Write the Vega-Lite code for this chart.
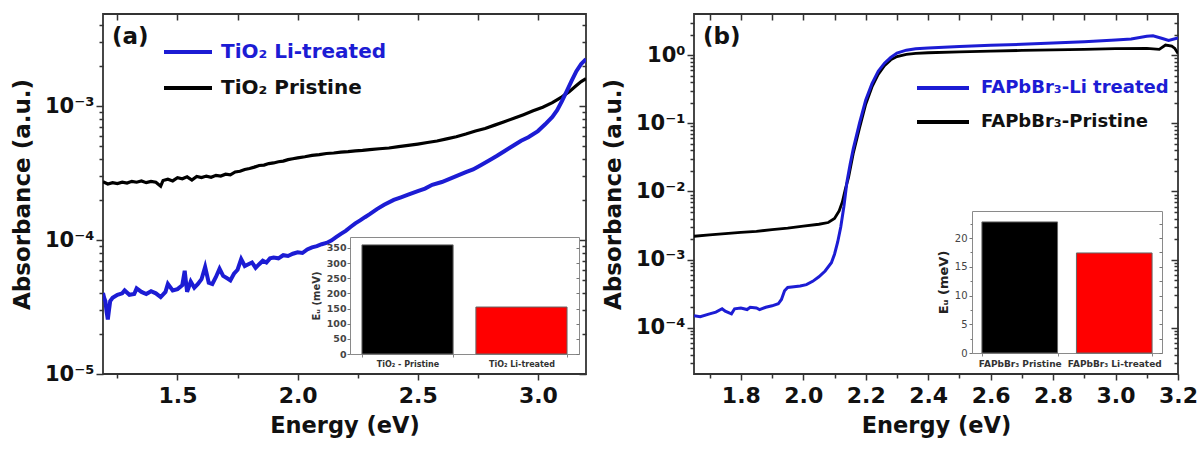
{
  "$schema": "https://vega.github.io/schema/vega-lite/v6.json",
  "padding": {"left": 10, "top": 12, "right": 0, "bottom": 0},
  "background": "white",
  "config": {
    "view": {"stroke": null},
    "font": "DejaVu Sans",
    "axis": {"grid": false, "domain": false, "labelFont": "DejaVu Sans", "titleFont": "DejaVu Sans", "labelColor": "#111", "titleColor": "#111", "tickColor": "#333", "tickWidth": 1.5, "labelOverlap": false, "labelFlush": false},
    "legend": {"labelFont": "DejaVu Sans"}
  },
  "datasets": {
    "a_lines": [
      {"sample": "TiO₂ Pristine", "E": 1.19, "A": 2.72e-4},
      {"sample": "TiO₂ Pristine", "E": 1.21, "A": 2.62e-4},
      {"sample": "TiO₂ Pristine", "E": 1.23, "A": 2.68e-4},
      {"sample": "TiO₂ Pristine", "E": 1.25, "A": 2.64e-4},
      {"sample": "TiO₂ Pristine", "E": 1.27, "A": 2.70e-4},
      {"sample": "TiO₂ Pristine", "E": 1.29, "A": 2.66e-4},
      {"sample": "TiO₂ Pristine", "E": 1.31, "A": 2.74e-4},
      {"sample": "TiO₂ Pristine", "E": 1.33, "A": 2.70e-4},
      {"sample": "TiO₂ Pristine", "E": 1.35, "A": 2.76e-4},
      {"sample": "TiO₂ Pristine", "E": 1.37, "A": 2.68e-4},
      {"sample": "TiO₂ Pristine", "E": 1.39, "A": 2.74e-4},
      {"sample": "TiO₂ Pristine", "E": 1.41, "A": 2.70e-4},
      {"sample": "TiO₂ Pristine", "E": 1.43, "A": 2.52e-4},
      {"sample": "TiO₂ Pristine", "E": 1.44, "A": 2.78e-4},
      {"sample": "TiO₂ Pristine", "E": 1.46, "A": 2.84e-4},
      {"sample": "TiO₂ Pristine", "E": 1.48, "A": 2.76e-4},
      {"sample": "TiO₂ Pristine", "E": 1.50, "A": 2.92e-4},
      {"sample": "TiO₂ Pristine", "E": 1.52, "A": 2.86e-4},
      {"sample": "TiO₂ Pristine", "E": 1.54, "A": 2.96e-4},
      {"sample": "TiO₂ Pristine", "E": 1.56, "A": 2.80e-4},
      {"sample": "TiO₂ Pristine", "E": 1.58, "A": 2.98e-4},
      {"sample": "TiO₂ Pristine", "E": 1.60, "A": 2.92e-4},
      {"sample": "TiO₂ Pristine", "E": 1.62, "A": 3.00e-4},
      {"sample": "TiO₂ Pristine", "E": 1.64, "A": 2.94e-4},
      {"sample": "TiO₂ Pristine", "E": 1.66, "A": 3.04e-4},
      {"sample": "TiO₂ Pristine", "E": 1.68, "A": 3.00e-4},
      {"sample": "TiO₂ Pristine", "E": 1.70, "A": 3.10e-4},
      {"sample": "TiO₂ Pristine", "E": 1.72, "A": 3.06e-4},
      {"sample": "TiO₂ Pristine", "E": 1.74, "A": 3.22e-4},
      {"sample": "TiO₂ Pristine", "E": 1.76, "A": 3.26e-4},
      {"sample": "TiO₂ Pristine", "E": 1.78, "A": 3.36e-4},
      {"sample": "TiO₂ Pristine", "E": 1.80, "A": 3.42e-4},
      {"sample": "TiO₂ Pristine", "E": 1.82, "A": 3.50e-4},
      {"sample": "TiO₂ Pristine", "E": 1.84, "A": 3.60e-4},
      {"sample": "TiO₂ Pristine", "E": 1.86, "A": 3.62e-4},
      {"sample": "TiO₂ Pristine", "E": 1.88, "A": 3.72e-4},
      {"sample": "TiO₂ Pristine", "E": 1.90, "A": 3.76e-4},
      {"sample": "TiO₂ Pristine", "E": 1.92, "A": 3.84e-4},
      {"sample": "TiO₂ Pristine", "E": 1.94, "A": 3.88e-4},
      {"sample": "TiO₂ Pristine", "E": 1.96, "A": 3.98e-4},
      {"sample": "TiO₂ Pristine", "E": 1.98, "A": 4.04e-4},
      {"sample": "TiO₂ Pristine", "E": 2.00, "A": 4.10e-4},
      {"sample": "TiO₂ Pristine", "E": 2.03, "A": 4.18e-4},
      {"sample": "TiO₂ Pristine", "E": 2.06, "A": 4.28e-4},
      {"sample": "TiO₂ Pristine", "E": 2.09, "A": 4.34e-4},
      {"sample": "TiO₂ Pristine", "E": 2.12, "A": 4.42e-4},
      {"sample": "TiO₂ Pristine", "E": 2.15, "A": 4.46e-4},
      {"sample": "TiO₂ Pristine", "E": 2.18, "A": 4.52e-4},
      {"sample": "TiO₂ Pristine", "E": 2.21, "A": 4.56e-4},
      {"sample": "TiO₂ Pristine", "E": 2.24, "A": 4.62e-4},
      {"sample": "TiO₂ Pristine", "E": 2.27, "A": 4.66e-4},
      {"sample": "TiO₂ Pristine", "E": 2.30, "A": 4.72e-4},
      {"sample": "TiO₂ Pristine", "E": 2.34, "A": 4.80e-4},
      {"sample": "TiO₂ Pristine", "E": 2.38, "A": 4.86e-4},
      {"sample": "TiO₂ Pristine", "E": 2.42, "A": 4.98e-4},
      {"sample": "TiO₂ Pristine", "E": 2.46, "A": 5.08e-4},
      {"sample": "TiO₂ Pristine", "E": 2.50, "A": 5.20e-4},
      {"sample": "TiO₂ Pristine", "E": 2.54, "A": 5.34e-4},
      {"sample": "TiO₂ Pristine", "E": 2.58, "A": 5.48e-4},
      {"sample": "TiO₂ Pristine", "E": 2.62, "A": 5.68e-4},
      {"sample": "TiO₂ Pristine", "E": 2.66, "A": 5.90e-4},
      {"sample": "TiO₂ Pristine", "E": 2.70, "A": 6.18e-4},
      {"sample": "TiO₂ Pristine", "E": 2.74, "A": 6.50e-4},
      {"sample": "TiO₂ Pristine", "E": 2.78, "A": 6.80e-4},
      {"sample": "TiO₂ Pristine", "E": 2.82, "A": 7.20e-4},
      {"sample": "TiO₂ Pristine", "E": 2.86, "A": 7.64e-4},
      {"sample": "TiO₂ Pristine", "E": 2.90, "A": 8.10e-4},
      {"sample": "TiO₂ Pristine", "E": 2.94, "A": 8.62e-4},
      {"sample": "TiO₂ Pristine", "E": 2.98, "A": 9.20e-4},
      {"sample": "TiO₂ Pristine", "E": 3.02, "A": 9.80e-4},
      {"sample": "TiO₂ Pristine", "E": 3.06, "A": 1.06e-3},
      {"sample": "TiO₂ Pristine", "E": 3.10, "A": 1.17e-3},
      {"sample": "TiO₂ Pristine", "E": 3.13, "A": 1.28e-3},
      {"sample": "TiO₂ Pristine", "E": 3.16, "A": 1.42e-3},
      {"sample": "TiO₂ Pristine", "E": 3.18, "A": 1.52e-3},
      {"sample": "TiO₂ Pristine", "E": 3.20, "A": 1.60e-3},
      {"sample": "TiO₂ Li-treated", "E": 1.19, "A": 4.02e-5},
      {"sample": "TiO₂ Li-treated", "E": 1.195, "A": 3.7e-5},
      {"sample": "TiO₂ Li-treated", "E": 1.20, "A": 3.5e-5},
      {"sample": "TiO₂ Li-treated", "E": 1.205, "A": 2.9e-5},
      {"sample": "TiO₂ Li-treated", "E": 1.21, "A": 2.55e-5},
      {"sample": "TiO₂ Li-treated", "E": 1.215, "A": 3.0e-5},
      {"sample": "TiO₂ Li-treated", "E": 1.22, "A": 3.5e-5},
      {"sample": "TiO₂ Li-treated", "E": 1.23, "A": 3.7e-5},
      {"sample": "TiO₂ Li-treated", "E": 1.25, "A": 3.9e-5},
      {"sample": "TiO₂ Li-treated", "E": 1.27, "A": 4.0e-5},
      {"sample": "TiO₂ Li-treated", "E": 1.28, "A": 4.2e-5},
      {"sample": "TiO₂ Li-treated", "E": 1.30, "A": 3.9e-5},
      {"sample": "TiO₂ Li-treated", "E": 1.32, "A": 3.95e-5},
      {"sample": "TiO₂ Li-treated", "E": 1.33, "A": 4.35e-5},
      {"sample": "TiO₂ Li-treated", "E": 1.35, "A": 4.1e-5},
      {"sample": "TiO₂ Li-treated", "E": 1.37, "A": 3.95e-5},
      {"sample": "TiO₂ Li-treated", "E": 1.39, "A": 4.15e-5},
      {"sample": "TiO₂ Li-treated", "E": 1.41, "A": 4.0e-5},
      {"sample": "TiO₂ Li-treated", "E": 1.43, "A": 3.75e-5},
      {"sample": "TiO₂ Li-treated", "E": 1.45, "A": 4.1e-5},
      {"sample": "TiO₂ Li-treated", "E": 1.46, "A": 4.7e-5},
      {"sample": "TiO₂ Li-treated", "E": 1.48, "A": 4.2e-5},
      {"sample": "TiO₂ Li-treated", "E": 1.50, "A": 4.3e-5},
      {"sample": "TiO₂ Li-treated", "E": 1.52, "A": 4.6e-5},
      {"sample": "TiO₂ Li-treated", "E": 1.53, "A": 5.9e-5},
      {"sample": "TiO₂ Li-treated", "E": 1.54, "A": 4.1e-5},
      {"sample": "TiO₂ Li-treated", "E": 1.555, "A": 4.9e-5},
      {"sample": "TiO₂ Li-treated", "E": 1.57, "A": 4.4e-5},
      {"sample": "TiO₂ Li-treated", "E": 1.585, "A": 4.7e-5},
      {"sample": "TiO₂ Li-treated", "E": 1.60, "A": 5.1e-5},
      {"sample": "TiO₂ Li-treated", "E": 1.615, "A": 6.3e-5},
      {"sample": "TiO₂ Li-treated", "E": 1.63, "A": 4.8e-5},
      {"sample": "TiO₂ Li-treated", "E": 1.645, "A": 4.7e-5},
      {"sample": "TiO₂ Li-treated", "E": 1.66, "A": 5.3e-5},
      {"sample": "TiO₂ Li-treated", "E": 1.675, "A": 6.1e-5},
      {"sample": "TiO₂ Li-treated", "E": 1.69, "A": 5.4e-5},
      {"sample": "TiO₂ Li-treated", "E": 1.705, "A": 5.2e-5},
      {"sample": "TiO₂ Li-treated", "E": 1.72, "A": 5.0e-5},
      {"sample": "TiO₂ Li-treated", "E": 1.735, "A": 5.6e-5},
      {"sample": "TiO₂ Li-treated", "E": 1.75, "A": 6.0e-5},
      {"sample": "TiO₂ Li-treated", "E": 1.765, "A": 7.2e-5},
      {"sample": "TiO₂ Li-treated", "E": 1.78, "A": 6.4e-5},
      {"sample": "TiO₂ Li-treated", "E": 1.795, "A": 6.6e-5},
      {"sample": "TiO₂ Li-treated", "E": 1.81, "A": 6.8e-5},
      {"sample": "TiO₂ Li-treated", "E": 1.825, "A": 6.2e-5},
      {"sample": "TiO₂ Li-treated", "E": 1.84, "A": 6.6e-5},
      {"sample": "TiO₂ Li-treated", "E": 1.855, "A": 7.0e-5},
      {"sample": "TiO₂ Li-treated", "E": 1.87, "A": 6.8e-5},
      {"sample": "TiO₂ Li-treated", "E": 1.885, "A": 7.3e-5},
      {"sample": "TiO₂ Li-treated", "E": 1.90, "A": 7.4e-5},
      {"sample": "TiO₂ Li-treated", "E": 1.92, "A": 7.3e-5},
      {"sample": "TiO₂ Li-treated", "E": 1.94, "A": 7.7e-5},
      {"sample": "TiO₂ Li-treated", "E": 1.96, "A": 7.6e-5},
      {"sample": "TiO₂ Li-treated", "E": 1.98, "A": 7.9e-5},
      {"sample": "TiO₂ Li-treated", "E": 2.00, "A": 8.1e-5},
      {"sample": "TiO₂ Li-treated", "E": 2.02, "A": 8.0e-5},
      {"sample": "TiO₂ Li-treated", "E": 2.04, "A": 8.5e-5},
      {"sample": "TiO₂ Li-treated", "E": 2.06, "A": 8.8e-5},
      {"sample": "TiO₂ Li-treated", "E": 2.08, "A": 9.0e-5},
      {"sample": "TiO₂ Li-treated", "E": 2.10, "A": 9.3e-5},
      {"sample": "TiO₂ Li-treated", "E": 2.12, "A": 9.5e-5},
      {"sample": "TiO₂ Li-treated", "E": 2.14, "A": 9.9e-5},
      {"sample": "TiO₂ Li-treated", "E": 2.16, "A": 1.05e-4},
      {"sample": "TiO₂ Li-treated", "E": 2.18, "A": 1.11e-4},
      {"sample": "TiO₂ Li-treated", "E": 2.20, "A": 1.17e-4},
      {"sample": "TiO₂ Li-treated", "E": 2.22, "A": 1.25e-4},
      {"sample": "TiO₂ Li-treated", "E": 2.24, "A": 1.33e-4},
      {"sample": "TiO₂ Li-treated", "E": 2.26, "A": 1.40e-4},
      {"sample": "TiO₂ Li-treated", "E": 2.28, "A": 1.48e-4},
      {"sample": "TiO₂ Li-treated", "E": 2.30, "A": 1.56e-4},
      {"sample": "TiO₂ Li-treated", "E": 2.33, "A": 1.70e-4},
      {"sample": "TiO₂ Li-treated", "E": 2.36, "A": 1.83e-4},
      {"sample": "TiO₂ Li-treated", "E": 2.40, "A": 1.99e-4},
      {"sample": "TiO₂ Li-treated", "E": 2.43, "A": 2.08e-4},
      {"sample": "TiO₂ Li-treated", "E": 2.46, "A": 2.18e-4},
      {"sample": "TiO₂ Li-treated", "E": 2.50, "A": 2.32e-4},
      {"sample": "TiO₂ Li-treated", "E": 2.53, "A": 2.42e-4},
      {"sample": "TiO₂ Li-treated", "E": 2.56, "A": 2.58e-4},
      {"sample": "TiO₂ Li-treated", "E": 2.60, "A": 2.71e-4},
      {"sample": "TiO₂ Li-treated", "E": 2.63, "A": 2.85e-4},
      {"sample": "TiO₂ Li-treated", "E": 2.66, "A": 3.0e-4},
      {"sample": "TiO₂ Li-treated", "E": 2.70, "A": 3.21e-4},
      {"sample": "TiO₂ Li-treated", "E": 2.73, "A": 3.36e-4},
      {"sample": "TiO₂ Li-treated", "E": 2.76, "A": 3.6e-4},
      {"sample": "TiO₂ Li-treated", "E": 2.80, "A": 3.95e-4},
      {"sample": "TiO₂ Li-treated", "E": 2.83, "A": 4.25e-4},
      {"sample": "TiO₂ Li-treated", "E": 2.86, "A": 4.6e-4},
      {"sample": "TiO₂ Li-treated", "E": 2.90, "A": 5.1e-4},
      {"sample": "TiO₂ Li-treated", "E": 2.93, "A": 5.5e-4},
      {"sample": "TiO₂ Li-treated", "E": 2.96, "A": 5.85e-4},
      {"sample": "TiO₂ Li-treated", "E": 3.00, "A": 6.5e-4},
      {"sample": "TiO₂ Li-treated", "E": 3.03, "A": 7.3e-4},
      {"sample": "TiO₂ Li-treated", "E": 3.06, "A": 8.3e-4},
      {"sample": "TiO₂ Li-treated", "E": 3.08, "A": 9.3e-4},
      {"sample": "TiO₂ Li-treated", "E": 3.10, "A": 1.09e-3},
      {"sample": "TiO₂ Li-treated", "E": 3.12, "A": 1.29e-3},
      {"sample": "TiO₂ Li-treated", "E": 3.14, "A": 1.54e-3},
      {"sample": "TiO₂ Li-treated", "E": 3.16, "A": 1.82e-3},
      {"sample": "TiO₂ Li-treated", "E": 3.18, "A": 2.06e-3},
      {"sample": "TiO₂ Li-treated", "E": 3.20, "A": 2.24e-3}
    ],
    "b_lines": [
      {"sample": "FAPbBr₃-Pristine", "E": 1.65, "A": 2.2e-3},
      {"sample": "FAPbBr₃-Pristine", "E": 1.70, "A": 2.3e-3},
      {"sample": "FAPbBr₃-Pristine", "E": 1.75, "A": 2.4e-3},
      {"sample": "FAPbBr₃-Pristine", "E": 1.80, "A": 2.5e-3},
      {"sample": "FAPbBr₃-Pristine", "E": 1.85, "A": 2.6e-3},
      {"sample": "FAPbBr₃-Pristine", "E": 1.90, "A": 2.75e-3},
      {"sample": "FAPbBr₃-Pristine", "E": 1.95, "A": 2.9e-3},
      {"sample": "FAPbBr₃-Pristine", "E": 2.00, "A": 3.1e-3},
      {"sample": "FAPbBr₃-Pristine", "E": 2.05, "A": 3.3e-3},
      {"sample": "FAPbBr₃-Pristine", "E": 2.08, "A": 3.5e-3},
      {"sample": "FAPbBr₃-Pristine", "E": 2.10, "A": 4.0e-3},
      {"sample": "FAPbBr₃-Pristine", "E": 2.115, "A": 5.2e-3},
      {"sample": "FAPbBr₃-Pristine", "E": 2.125, "A": 7.0e-3},
      {"sample": "FAPbBr₃-Pristine", "E": 2.135, "A": 1.1e-2},
      {"sample": "FAPbBr₃-Pristine", "E": 2.145, "A": 1.6e-2},
      {"sample": "FAPbBr₃-Pristine", "E": 2.16, "A": 3.6e-2},
      {"sample": "FAPbBr₃-Pristine", "E": 2.18, "A": 0.085},
      {"sample": "FAPbBr₃-Pristine", "E": 2.20, "A": 0.19},
      {"sample": "FAPbBr₃-Pristine", "E": 2.22, "A": 0.34},
      {"sample": "FAPbBr₃-Pristine", "E": 2.24, "A": 0.52},
      {"sample": "FAPbBr₃-Pristine", "E": 2.26, "A": 0.70},
      {"sample": "FAPbBr₃-Pristine", "E": 2.28, "A": 0.85},
      {"sample": "FAPbBr₃-Pristine", "E": 2.30, "A": 0.95},
      {"sample": "FAPbBr₃-Pristine", "E": 2.33, "A": 1.02},
      {"sample": "FAPbBr₃-Pristine", "E": 2.36, "A": 1.06},
      {"sample": "FAPbBr₃-Pristine", "E": 2.40, "A": 1.08},
      {"sample": "FAPbBr₃-Pristine", "E": 2.50, "A": 1.11},
      {"sample": "FAPbBr₃-Pristine", "E": 2.60, "A": 1.14},
      {"sample": "FAPbBr₃-Pristine", "E": 2.70, "A": 1.17},
      {"sample": "FAPbBr₃-Pristine", "E": 2.80, "A": 1.19},
      {"sample": "FAPbBr₃-Pristine", "E": 2.90, "A": 1.21},
      {"sample": "FAPbBr₃-Pristine", "E": 3.00, "A": 1.24},
      {"sample": "FAPbBr₃-Pristine", "E": 3.10, "A": 1.25},
      {"sample": "FAPbBr₃-Pristine", "E": 3.14, "A": 1.21},
      {"sample": "FAPbBr₃-Pristine", "E": 3.16, "A": 1.40},
      {"sample": "FAPbBr₃-Pristine", "E": 3.18, "A": 1.35},
      {"sample": "FAPbBr₃-Pristine", "E": 3.19, "A": 1.25},
      {"sample": "FAPbBr₃-Pristine", "E": 3.20, "A": 1.05},
      {"sample": "FAPbBr₃-Li treated", "E": 1.65, "A": 1.5e-4},
      {"sample": "FAPbBr₃-Li treated", "E": 1.67, "A": 1.45e-4},
      {"sample": "FAPbBr₃-Li treated", "E": 1.70, "A": 1.6e-4},
      {"sample": "FAPbBr₃-Li treated", "E": 1.72, "A": 1.7e-4},
      {"sample": "FAPbBr₃-Li treated", "E": 1.74, "A": 1.9e-4},
      {"sample": "FAPbBr₃-Li treated", "E": 1.75, "A": 1.75e-4},
      {"sample": "FAPbBr₃-Li treated", "E": 1.77, "A": 1.6e-4},
      {"sample": "FAPbBr₃-Li treated", "E": 1.78, "A": 1.9e-4},
      {"sample": "FAPbBr₃-Li treated", "E": 1.80, "A": 1.95e-4},
      {"sample": "FAPbBr₃-Li treated", "E": 1.82, "A": 1.85e-4},
      {"sample": "FAPbBr₃-Li treated", "E": 1.83, "A": 2.0e-4},
      {"sample": "FAPbBr₃-Li treated", "E": 1.85, "A": 1.95e-4},
      {"sample": "FAPbBr₃-Li treated", "E": 1.86, "A": 1.85e-4},
      {"sample": "FAPbBr₃-Li treated", "E": 1.88, "A": 2.0e-4},
      {"sample": "FAPbBr₃-Li treated", "E": 1.90, "A": 2.1e-4},
      {"sample": "FAPbBr₃-Li treated", "E": 1.92, "A": 2.25e-4},
      {"sample": "FAPbBr₃-Li treated", "E": 1.93, "A": 2.6e-4},
      {"sample": "FAPbBr₃-Li treated", "E": 1.94, "A": 3.5e-4},
      {"sample": "FAPbBr₃-Li treated", "E": 1.95, "A": 3.9e-4},
      {"sample": "FAPbBr₃-Li treated", "E": 1.97, "A": 4.0e-4},
      {"sample": "FAPbBr₃-Li treated", "E": 1.99, "A": 4.1e-4},
      {"sample": "FAPbBr₃-Li treated", "E": 2.01, "A": 4.3e-4},
      {"sample": "FAPbBr₃-Li treated", "E": 2.03, "A": 4.8e-4},
      {"sample": "FAPbBr₃-Li treated", "E": 2.05, "A": 5.6e-4},
      {"sample": "FAPbBr₃-Li treated", "E": 2.07, "A": 6.8e-4},
      {"sample": "FAPbBr₃-Li treated", "E": 2.09, "A": 9.0e-4},
      {"sample": "FAPbBr₃-Li treated", "E": 2.10, "A": 1.2e-3},
      {"sample": "FAPbBr₃-Li treated", "E": 2.11, "A": 1.8e-3},
      {"sample": "FAPbBr₃-Li treated", "E": 2.12, "A": 3.0e-3},
      {"sample": "FAPbBr₃-Li treated", "E": 2.13, "A": 6.0e-3},
      {"sample": "FAPbBr₃-Li treated", "E": 2.14, "A": 1.4e-2},
      {"sample": "FAPbBr₃-Li treated", "E": 2.15, "A": 2.5e-2},
      {"sample": "FAPbBr₃-Li treated", "E": 2.16, "A": 4.2e-2},
      {"sample": "FAPbBr₃-Li treated", "E": 2.18, "A": 0.10},
      {"sample": "FAPbBr₃-Li treated", "E": 2.20, "A": 0.22},
      {"sample": "FAPbBr₃-Li treated", "E": 2.22, "A": 0.38},
      {"sample": "FAPbBr₃-Li treated", "E": 2.24, "A": 0.58},
      {"sample": "FAPbBr₃-Li treated", "E": 2.26, "A": 0.76},
      {"sample": "FAPbBr₃-Li treated", "E": 2.28, "A": 0.92},
      {"sample": "FAPbBr₃-Li treated", "E": 2.30, "A": 1.07},
      {"sample": "FAPbBr₃-Li treated", "E": 2.33, "A": 1.18},
      {"sample": "FAPbBr₃-Li treated", "E": 2.36, "A": 1.24},
      {"sample": "FAPbBr₃-Li treated", "E": 2.40, "A": 1.27},
      {"sample": "FAPbBr₃-Li treated", "E": 2.50, "A": 1.33},
      {"sample": "FAPbBr₃-Li treated", "E": 2.60, "A": 1.39},
      {"sample": "FAPbBr₃-Li treated", "E": 2.70, "A": 1.44},
      {"sample": "FAPbBr₃-Li treated", "E": 2.80, "A": 1.50},
      {"sample": "FAPbBr₃-Li treated", "E": 2.90, "A": 1.57},
      {"sample": "FAPbBr₃-Li treated", "E": 3.00, "A": 1.66},
      {"sample": "FAPbBr₃-Li treated", "E": 3.05, "A": 1.72},
      {"sample": "FAPbBr₃-Li treated", "E": 3.10, "A": 1.88},
      {"sample": "FAPbBr₃-Li treated", "E": 3.12, "A": 1.92},
      {"sample": "FAPbBr₃-Li treated", "E": 3.15, "A": 1.75},
      {"sample": "FAPbBr₃-Li treated", "E": 3.17, "A": 1.64},
      {"sample": "FAPbBr₃-Li treated", "E": 3.20, "A": 1.78}
    ],
    "a_eu": [
      {"sample": "TiO₂ - Pristine", "Eu": 360},
      {"sample": "TiO₂ Li-treated", "Eu": 155}
    ],
    "b_eu": [
      {"sample": "FAPbBr₃ Pristine", "Eu": 22.8},
      {"sample": "FAPbBr₃ Li-treated", "Eu": 17.4}
    ]
  },
  "hconcat": [
    {
      "vconcat": [
        {
          "vconcat": [
            {
              "width": 483,
              "height": 360,
              "view": {"stroke": "#333", "strokeWidth": 1.8},
              "title": {"text": "(a)", "anchor": "start", "frame": "group", "orient": "top", "offset": -54, "dx": 9, "fontSize": 23, "fontWeight": "bold", "font": "DejaVu Sans", "color": "#111", "baseline": "alphabetic"},
              "data": {"name": "a_lines"},
              "layer": [
                {
                  "transform": [{"filter": "datum.sample == 'TiO₂ Pristine'"}],
                  "mark": {"type": "line", "strokeWidth": 3.2, "clip": true},
                  "encoding": {
                    "x": {"field": "E", "type": "quantitative", "scale": {"domain": [1.19, 3.2], "nice": false, "zero": false},
                          "axis": {"orient": "bottom", "values": [1.5, 2.0, 2.5, 3.0], "format": ".1f", "tickSize": 6, "labelFontSize": 22, "labelFontWeight": "bold", "labelPadding": 5, "title": "Energy (eV)", "titleFontSize": 22.5, "titleFontWeight": "bold", "titlePadding": 8}},
                    "y": {"field": "A", "type": "quantitative", "scale": {"type": "log", "domain": [1e-5, 0.00486], "nice": false},
                          "axis": {"orient": "left", "values": [1e-5, 1e-4, 1e-3], "labelExpr": "datum.value < 5e-5 ? '10⁻⁵' : datum.value < 5e-4 ? '10⁻⁴' : '10⁻³'", "tickSize": 7, "labelFontSize": 21, "labelFontWeight": "bold", "labelPadding": 2, "title": "Absorbance (a.u.)", "titleFontSize": 23, "titleFontWeight": "bold", "titlePadding": 10}},
                    "color": {"field": "sample", "type": "nominal", "scale": {"domain": ["TiO₂ Li-treated", "TiO₂ Pristine"], "range": ["#1c1cd4", "#000000"]},
                              "legend": {"orient": "none", "legendX": 59, "legendY": 20, "title": null, "symbolType": "stroke", "symbolSize": 2304, "symbolStrokeWidth": 4, "labelFontSize": 20, "labelFontWeight": "bold", "labelOffset": 7, "clipHeight": 36, "padding": 0, "rowPadding": 0, "labelLimit": 400, "labelColor": {"expr": "datum.label == 'TiO₂ Li-treated' ? '#1c1cd4' : '#111111'"}}}
                  }
                },
                {
                  "transform": [{"filter": "datum.sample == 'TiO₂ Li-treated'"}],
                  "mark": {"type": "line", "strokeWidth": 4, "clip": true},
                  "encoding": {
                    "x": {"field": "E", "type": "quantitative", "scale": {"domain": [1.19, 3.2], "nice": false, "zero": false}, "axis": null},
                    "y": {"field": "A", "type": "quantitative", "scale": {"type": "log", "domain": [1e-5, 0.00486], "nice": false}, "axis": null},
                    "color": {"field": "sample", "type": "nominal", "scale": {"domain": ["TiO₂ Li-treated", "TiO₂ Pristine"], "range": ["#1c1cd4", "#000000"]}, "legend": null}
                  }
                },
                {
                  "mark": {"type": "point", "opacity": 0},
                  "encoding": {
                    "x": {"field": "E", "type": "quantitative", "scale": {"domain": [1.19, 3.2], "nice": false, "zero": false},
                          "axis": {"orient": "bottom", "values": [1.25, 1.75, 2.25, 2.75], "labels": false, "tickSize": 4, "title": null}},
                    "y": {"field": "A", "type": "quantitative", "scale": {"type": "log", "domain": [1e-5, 0.00486], "nice": false},
                          "axis": {"orient": "left", "values": [2e-5, 3e-5, 4e-5, 5e-5, 6e-5, 7e-5, 8e-5, 9e-5, 2e-4, 3e-4, 4e-4, 5e-4, 6e-4, 7e-4, 8e-4, 9e-4, 2e-3, 3e-3, 4e-3], "labels": false, "tickSize": 4, "title": null}}
                  }
                },
                {
                  "mark": {"type": "point", "opacity": 0},
                  "encoding": {
                    "x": {"field": "E", "type": "quantitative", "scale": {"domain": [1.19, 3.2], "nice": false, "zero": false},
                          "axis": {"orient": "top", "values": [1.25, 1.5, 1.75, 2.0, 2.25, 2.5, 2.75, 3.0], "labels": false, "tickSize": -6, "title": null}},
                    "y": {"field": "A", "type": "quantitative", "scale": {"type": "log", "domain": [1e-5, 0.00486], "nice": false},
                          "axis": {"orient": "right", "values": [1e-5, 1e-4, 1e-3], "labels": false, "tickSize": -7, "title": null}}
                  }
                },
                {
                  "mark": {"type": "point", "opacity": 0},
                  "encoding": {
                    "x": {"field": "E", "type": "quantitative", "scale": {"domain": [1.19, 3.2], "nice": false, "zero": false}, "axis": null},
                    "y": {"field": "A", "type": "quantitative", "scale": {"type": "log", "domain": [1e-5, 0.00486], "nice": false},
                          "axis": {"orient": "right", "values": [2e-5, 3e-5, 4e-5, 5e-5, 6e-5, 7e-5, 8e-5, 9e-5, 2e-4, 3e-4, 4e-4, 5e-4, 6e-4, 7e-4, 8e-4, 9e-4, 2e-3, 3e-3, 4e-3], "labels": false, "tickSize": -4, "title": null}}
                  }
                }
              ],
              "resolve": {"axis": {"x": "independent", "y": "independent"}}
            }
          ],
          "bounds": "flush",
          "resolve": {"scale": {"x": "independent", "y": "independent", "color": "independent"}, "legend": {"color": "independent"}}
        },
        {
          "hconcat": [
            {"width": 247, "height": 5, "data": {"values": [{"v": 0}]}, "mark": {"type": "point", "opacity": 0}},
            {
              "width": 229,
              "height": 117,
              "view": {"stroke": "#8a8a8a", "strokeWidth": 1, "fill": "white"},
              "data": {"name": "a_eu"},
              "layer": [
                {
                  "mark": {"type": "bar", "stroke": "#666", "strokeWidth": 1},
                  "encoding": {
                    "x": {"field": "sample", "type": "nominal", "sort": null, "scale": {"paddingInner": 0.2, "paddingOuter": 0.105}, "axis": null},
                    "y": {"field": "Eu", "type": "quantitative", "scale": {"domain": [0, 386], "nice": false},
                          "axis": {"orient": "left", "values": [0, 50, 100, 150, 200, 250, 300, 350], "tickSize": 3, "tickWidth": 1, "tickColor": "#777", "labelFontSize": 9.5, "labelFontWeight": "bold", "labelColor": "#444", "labelPadding": 1, "title": "Eᵤ (meV)", "titleFontSize": 10, "titleFontWeight": "bold", "titleColor": "#333", "titlePadding": 5}},
                    "color": {"field": "sample", "type": "nominal", "scale": {"domain": ["TiO₂ - Pristine", "TiO₂ Li-treated"], "range": ["#000000", "#ff0000"]}, "legend": null}
                  }
                },
                {
                  "mark": {"type": "bar", "opacity": 0},
                  "encoding": {
                    "x": {"field": "sample", "type": "nominal", "sort": null, "scale": {"paddingInner": 0.2, "paddingOuter": 0.105},
                          "axis": {"orient": "bottom", "title": null, "labelAngle": 0, "labels": true, "ticks": true, "tickBand": "extent", "tickSize": 3, "tickWidth": 1, "tickColor": "#888", "labelFontSize": 8, "labelFontWeight": "bold", "labelColor": "#333", "labelPadding": 3, "labelLimit": 200}},
                    "y": {"field": "Eu", "type": "quantitative", "scale": {"domain": [0, 386], "nice": false},
                          "axis": {"orient": "right", "values": [0, 50, 100, 150, 200, 250, 300, 350], "labels": false, "tickSize": -3, "tickWidth": 1, "tickColor": "#777", "title": null}}
                  }
                }
              ],
              "resolve": {"axis": {"x": "independent", "y": "independent"}}
            }
          ],
          "spacing": 0,
          "bounds": "flush",
          "resolve": {"scale": {"x": "independent", "y": "independent", "color": "independent"}, "legend": {"color": "independent"}}
        }
      ],
      "spacing": 223,
      "bounds": "flush",
      "resolve": {"scale": {"x": "independent", "y": "independent", "color": "independent"}, "legend": {"color": "independent"}}
    },
    {
      "vconcat": [
        {
          "vconcat": [
            {
              "width": 484,
              "height": 360,
              "view": {"stroke": "#333", "strokeWidth": 1.8},
              "title": {"text": "(b)", "anchor": "start", "frame": "group", "orient": "top", "offset": -54, "dx": 9, "fontSize": 23, "fontWeight": "bold", "font": "DejaVu Sans", "color": "#111", "baseline": "alphabetic"},
              "data": {"name": "b_lines"},
              "layer": [
                {
                  "transform": [{"filter": "datum.sample == 'FAPbBr₃-Pristine'"}],
                  "mark": {"type": "line", "strokeWidth": 2.8, "clip": true},
                  "encoding": {
                    "x": {"field": "E", "type": "quantitative", "scale": {"domain": [1.65, 3.2], "nice": false, "zero": false},
                          "axis": {"orient": "bottom", "values": [1.8, 2.0, 2.2, 2.4, 2.6, 2.8, 3.0, 3.2], "format": ".1f", "tickSize": 6, "labelFontSize": 22, "labelFontWeight": "bold", "labelPadding": 5, "title": "Energy (eV)", "titleFontSize": 22.5, "titleFontWeight": "bold", "titlePadding": 8}},
                    "y": {"field": "A", "type": "quantitative", "scale": {"type": "log", "domain": [2.1e-5, 4.0], "nice": false},
                          "axis": {"orient": "left", "values": [1e-4, 1e-3, 1e-2, 0.1, 1], "labelExpr": "datum.value < 5e-4 ? '10⁻⁴' : datum.value < 5e-3 ? '10⁻³' : datum.value < 5e-2 ? '10⁻²' : datum.value < 0.5 ? '10⁻¹' : '10⁰'", "tickSize": 7, "labelFontSize": 21, "labelFontWeight": "bold", "labelPadding": 2, "title": "Absorbance (a.u.)", "titleFontSize": 23, "titleFontWeight": "bold", "titlePadding": 10}},
                    "color": {"field": "sample", "type": "nominal", "scale": {"domain": ["FAPbBr₃-Li treated", "FAPbBr₃-Pristine"], "range": ["#1c1cd4", "#000000"]},
                              "legend": {"orient": "none", "legendX": 221, "legendY": 57, "title": null, "symbolType": "stroke", "symbolSize": 2704, "symbolStrokeWidth": 4, "labelFontSize": 18, "labelFontWeight": "bold", "labelOffset": 10, "clipHeight": 34, "padding": 0, "rowPadding": 0, "labelLimit": 400, "labelColor": {"expr": "datum.label == 'FAPbBr₃-Li treated' ? '#1c1cd4' : '#111111'"}}}
                  }
                },
                {
                  "transform": [{"filter": "datum.sample == 'FAPbBr₃-Li treated'"}],
                  "mark": {"type": "line", "strokeWidth": 3, "clip": true},
                  "encoding": {
                    "x": {"field": "E", "type": "quantitative", "scale": {"domain": [1.65, 3.2], "nice": false, "zero": false}, "axis": null},
                    "y": {"field": "A", "type": "quantitative", "scale": {"type": "log", "domain": [2.1e-5, 4.0], "nice": false}, "axis": null},
                    "color": {"field": "sample", "type": "nominal", "scale": {"domain": ["FAPbBr₃-Li treated", "FAPbBr₃-Pristine"], "range": ["#1c1cd4", "#000000"]}, "legend": null}
                  }
                },
                {
                  "mark": {"type": "point", "opacity": 0},
                  "encoding": {
                    "x": {"field": "E", "type": "quantitative", "scale": {"domain": [1.65, 3.2], "nice": false, "zero": false},
                          "axis": {"orient": "bottom", "values": [1.7, 1.9, 2.1, 2.3, 2.5, 2.7, 2.9, 3.1], "labels": false, "tickSize": 4, "title": null}},
                    "y": {"field": "A", "type": "quantitative", "scale": {"type": "log", "domain": [2.1e-5, 4.0], "nice": false},
                          "axis": {"orient": "left", "values": [3e-5, 4e-5, 5e-5, 6e-5, 7e-5, 8e-5, 9e-5, 2e-4, 3e-4, 4e-4, 5e-4, 6e-4, 7e-4, 8e-4, 9e-4, 2e-3, 3e-3, 4e-3, 5e-3, 6e-3, 7e-3, 8e-3, 9e-3, 0.02, 0.03, 0.04, 0.05, 0.06, 0.07, 0.08, 0.09, 0.2, 0.3, 0.4, 0.5, 0.6, 0.7, 0.8, 0.9, 2, 3], "labels": false, "tickSize": 4, "title": null}}
                  }
                },
                {
                  "mark": {"type": "point", "opacity": 0},
                  "encoding": {
                    "x": {"field": "E", "type": "quantitative", "scale": {"domain": [1.65, 3.2], "nice": false, "zero": false},
                          "axis": {"orient": "top", "values": [1.7, 1.8, 1.9, 2.0, 2.1, 2.2, 2.3, 2.4, 2.5, 2.6, 2.7, 2.8, 2.9, 3.0, 3.1], "labels": false, "tickSize": -6, "title": null}},
                    "y": {"field": "A", "type": "quantitative", "scale": {"type": "log", "domain": [2.1e-5, 4.0], "nice": false},
                          "axis": {"orient": "right", "values": [1e-4, 1e-3, 1e-2, 0.1, 1], "labels": false, "tickSize": -7, "title": null}}
                  }
                },
                {
                  "mark": {"type": "point", "opacity": 0},
                  "encoding": {
                    "x": {"field": "E", "type": "quantitative", "scale": {"domain": [1.65, 3.2], "nice": false, "zero": false}, "axis": null},
                    "y": {"field": "A", "type": "quantitative", "scale": {"type": "log", "domain": [2.1e-5, 4.0], "nice": false},
                          "axis": {"orient": "right", "values": [3e-5, 4e-5, 5e-5, 6e-5, 7e-5, 8e-5, 9e-5, 2e-4, 3e-4, 4e-4, 5e-4, 6e-4, 7e-4, 8e-4, 9e-4, 2e-3, 3e-3, 4e-3, 5e-3, 6e-3, 7e-3, 8e-3, 9e-3, 0.02, 0.03, 0.04, 0.05, 0.06, 0.07, 0.08, 0.09, 0.2, 0.3, 0.4, 0.5, 0.6, 0.7, 0.8, 0.9, 2, 3], "labels": false, "tickSize": -4, "title": null}}
                  }
                }
              ],
              "resolve": {"axis": {"x": "independent", "y": "independent"}}
            }
          ],
          "bounds": "flush",
          "resolve": {"scale": {"x": "independent", "y": "independent", "color": "independent"}, "legend": {"color": "independent"}}
        },
        {
          "hconcat": [
            {"width": 278, "height": 5, "data": {"values": [{"v": 0}]}, "mark": {"type": "point", "opacity": 0}},
            {
              "width": 190,
              "height": 142,
              "view": {"stroke": "#8a8a8a", "strokeWidth": 1, "fill": "white"},
              "data": {"name": "b_eu"},
              "layer": [
                {
                  "mark": {"type": "bar", "stroke": "#666", "strokeWidth": 1},
                  "encoding": {
                    "x": {"field": "sample", "type": "nominal", "sort": null, "scale": {"paddingInner": 0.2, "paddingOuter": 0.105}, "axis": null},
                    "y": {"field": "Eu", "type": "quantitative", "scale": {"domain": [0, 24.7], "nice": false},
                          "axis": {"orient": "left", "values": [0, 5, 10, 15, 20], "tickSize": 3, "tickWidth": 1, "tickColor": "#777", "labelFontSize": 10, "labelColor": "#444", "labelPadding": 2, "title": "Eᵤ (meV)", "titleFontSize": 13, "titleFontWeight": "bold", "titleColor": "#222", "titlePadding": 4}},
                    "color": {"field": "sample", "type": "nominal", "scale": {"domain": ["FAPbBr₃ Pristine", "FAPbBr₃ Li-treated"], "range": ["#000000", "#ff0000"]}, "legend": null}
                  }
                },
                {
                  "mark": {"type": "bar", "opacity": 0},
                  "encoding": {
                    "x": {"field": "sample", "type": "nominal", "sort": null, "scale": {"paddingInner": 0.2, "paddingOuter": 0.105},
                          "axis": {"orient": "bottom", "title": null, "labelAngle": 0, "labels": true, "ticks": true, "tickBand": "extent", "tickSize": 3, "tickWidth": 1, "tickColor": "#888", "labelFontSize": 9, "labelFontWeight": "bold", "labelColor": "#333", "labelPadding": 3, "labelLimit": 200}},
                    "y": {"field": "Eu", "type": "quantitative", "scale": {"domain": [0, 24.7], "nice": false},
                          "axis": {"orient": "left", "values": [2.5, 7.5, 12.5, 17.5, 22.5], "labels": false, "tickSize": 2, "tickWidth": 1, "tickColor": "#777", "title": null}}
                  }
                },
                {
                  "mark": {"type": "bar", "opacity": 0},
                  "encoding": {
                    "x": {"field": "sample", "type": "nominal", "sort": null, "axis": null},
                    "y": {"field": "Eu", "type": "quantitative", "scale": {"domain": [0, 24.7], "nice": false},
                          "axis": {"orient": "right", "values": [0, 2.5, 5, 7.5, 10, 12.5, 15, 17.5, 20, 22.5], "labels": false, "tickSize": -3, "tickWidth": 1, "tickColor": "#777", "title": null}}
                  }
                }
              ],
              "resolve": {"axis": {"x": "independent", "y": "independent"}}
            }
          ],
          "spacing": 0,
          "bounds": "flush",
          "resolve": {"scale": {"x": "independent", "y": "independent", "color": "independent"}, "legend": {"color": "independent"}}
        }
      ],
      "spacing": 197,
      "bounds": "flush",
      "resolve": {"scale": {"x": "independent", "y": "independent", "color": "independent"}, "legend": {"color": "independent"}}
    }
  ],
  "spacing": 591,
  "bounds": "flush",
  "resolve": {"scale": {"x": "independent", "y": "independent", "color": "independent"}, "legend": {"color": "independent"}}
}
